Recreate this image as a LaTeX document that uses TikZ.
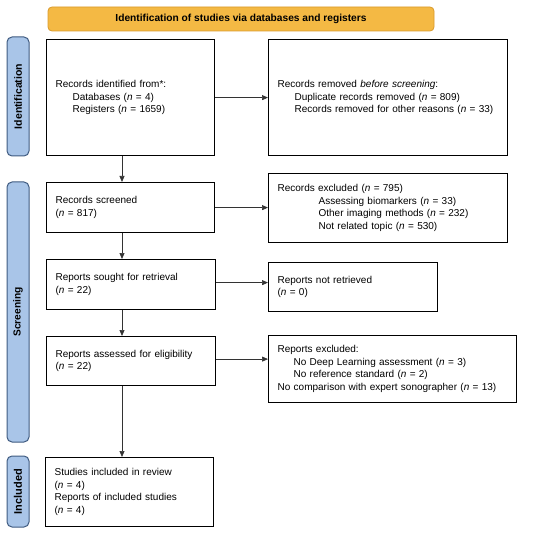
\documentclass[tikz,border=0pt]{standalone}
\usepackage{fontspec}
\setmainfont{Liberation Sans}
\usetikzlibrary{arrows.meta}
\definecolor{headfill}{HTML}{F4B944}
\definecolor{headline}{HTML}{D99A2B}
\definecolor{sidefill}{HTML}{A9C5E8}
\definecolor{sideline}{HTML}{3F5B80}

\begin{document}
\begin{tikzpicture}[x=1pt, y=-1pt,
  box/.style={draw, line width=1.2pt, anchor=north west, align=left, inner xsep=9pt, inner ysep=0pt, font=\fontsize{10}{12.5}\selectfont},
  phase/.style={draw=sideline, fill=sidefill, rounded corners=5pt, line width=1pt, rotate=90, minimum height=22pt, inner sep=0pt, font=\bfseries\fontsize{10.2}{12}\selectfont},
  arr/.style={-{Triangle[length=6pt,width=5pt]}, line width=0.7pt, draw=black!80}]
  \useasboundingbox (0,0) rectangle (550,535);

  % Header
  \node[draw=headline, fill=headfill, rounded corners=4pt, line width=0.8pt, minimum width=386pt, minimum height=24pt, font=\bfseries\fontsize{10.2}{12}\selectfont] (head) at (241,19) {Identification of studies via databases and registers};

  % Phases
  \node[phase, minimum width=119pt, font=\bfseries\fontsize{10.5}{12}\selectfont] (pid) at (18,96.5) {Identification};
  \node[phase, minimum width=260pt] (pscr) at (18,312) {Screening};
  \node[phase, minimum width=71pt, font=\bfseries\fontsize{11}{12}\selectfont] (pinc) at (18,491.5) {Included};

  % Left column
  \node[box, text width=150pt, minimum height=116pt] (ident) at (46,39) {Records identified from*:\\\hspace*{17pt}Databases (\textit{n} = 4)\\\hspace*{17pt}Registers (\textit{n} = 1659)};
  \node[box, text width=150pt, minimum height=50pt] (screen) at (46,182) {Records screened\\(\textit{n} = 817)};
  \node[box, text width=151pt, minimum height=50pt] (sought) at (46,259) {Reports sought for retrieval\\(\textit{n} = 22)};
  \node[box, text width=151pt, minimum height=49pt] (assess) at (46,336) {Reports assessed for eligibility\\(\textit{n} = 22)};
  \node[box, text width=150pt, minimum height=69pt] (incl) at (45,457) {Studies included in review\\(\textit{n} = 4)\\Reports of included studies\\(\textit{n} = 4)};

  % Right column
  \node[box, text width=221pt, minimum height=116pt] (removed) at (268,39) {Records removed \textit{before screening}:\\\hspace*{17pt}Duplicate records removed (\textit{n} = 809)\\\hspace*{17pt}Records removed for other reasons (\textit{n} = 33)};
  \node[box, text width=221pt, minimum height=69pt] (excl) at (268,173) {Records excluded (\textit{n} = 795)\\\hspace*{41pt}Assessing biomarkers (\textit{n} = 33)\\\hspace*{41pt}Other imaging methods (\textit{n} = 232)\\\hspace*{41pt}Not related topic (\textit{n} = 530)};
  \node[box, text width=151pt, minimum height=49pt] (notret) at (268,262) {Reports not retrieved\\(\textit{n} = 0)};
  \node[box, text width=230pt, minimum height=67pt] (repexcl) at (268,335) {Reports excluded:\\\hspace*{16pt}No Deep Learning assessment (\textit{n} = 3)\\\hspace*{16pt}No reference standard (\textit{n} = 2)\\No comparison with expert sonographer (\textit{n} = 13)};

  % Arrows
  \coordinate (spine) at (122,0);
  \draw[arr] (ident.south -| spine) -- (screen.north -| spine);
  \draw[arr] (screen.south -| spine) -- (sought.north -| spine);
  \draw[arr] (sought.south -| spine) -- (assess.north -| spine);
  \draw[arr] (assess.south -| spine) -- (incl.north -| spine);
  \draw[arr] (ident.east) -- (ident.east -| removed.west);
  \draw[arr] (screen.east) -- (screen.east -| excl.west);
  \draw[arr] ([yshift=2pt]sought.east) -- ([yshift=2pt]sought.east -| notret.west);
  \draw[arr] ([yshift=2pt]assess.east) -- ([yshift=2pt]assess.east -| repexcl.west);
\end{tikzpicture}
\end{document}
